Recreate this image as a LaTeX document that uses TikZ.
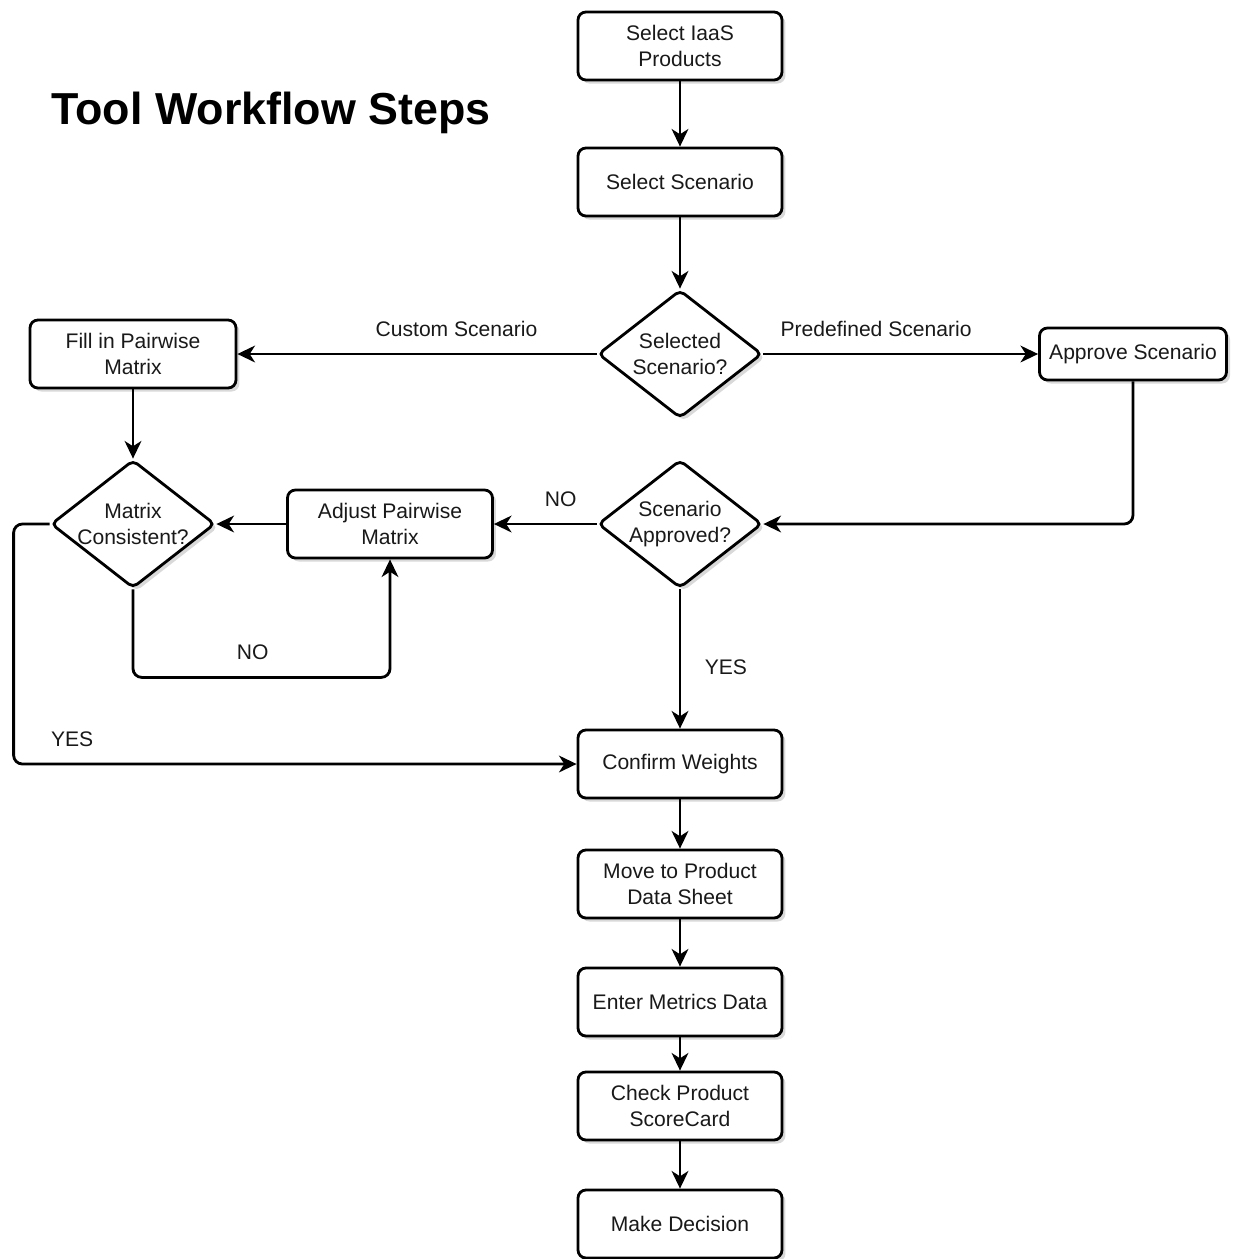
\documentclass[tikz,border=0pt]{standalone}
\usepackage{fontspec}
\setmainfont{Liberation Sans}
\usetikzlibrary{shapes.geometric}
\usetikzlibrary{arrows.meta}
\usetikzlibrary{shadows}

\tikzset{
  stepbox/.style={draw, rounded corners=4.5pt, line width=1.6pt, fill=white,
    minimum width=4.08cm, minimum height=1.36cm, align=center,
    font=\fontsize{12}{14.8}\selectfont, text=black!90,
    drop shadow={shadow xshift=2pt, shadow yshift=-2pt, opacity=0.3}},
  choice/.style={draw, diamond, rounded corners=3pt, line width=1.6pt, fill=white,
    minimum width=3.28cm, minimum height=2.56cm, inner sep=-6pt, align=center,
    font=\fontsize{12}{14.8}\selectfont, text=black!90,
    drop shadow={shadow xshift=2pt, shadow yshift=-2pt, opacity=0.3}},
  tag/.style={font=\fontsize{12}{14.8}\selectfont, text=black!90},
  arr/.style={-{Stealth[length=10pt,width=9.5pt,inset=3pt]}, line width=1.6pt, rounded corners=5pt}
}

\begin{document}
\begin{tikzpicture}[x=0.02cm, y=-0.02cm]
  \useasboundingbox (0,0) rectangle (1236,1259);

  \node (title) at (271,113) {\fontsize{25.5}{30}\selectfont\bfseries Tool Workflow Steps};

  \node[stepbox] (prod) at (680,46) {Select IaaS\\Products};
  \node[stepbox] (scen) at (680,182) {Select Scenario};
  \node[choice] (sel) at (680,354) {Selected\\Scenario?};
  \node[stepbox, minimum width=4.12cm] (fill) at (133,354) {Fill in Pairwise\\Matrix};
  \node[stepbox, minimum width=3.74cm, minimum height=1.04cm] (appr) at (1133,354) {Approve Scenario};
  \node[choice] (ok) at (680,524) {Scenario\\Approved?};
  \node[stepbox, minimum width=4.1cm] (adj) at (390,524) {Adjust Pairwise\\Matrix};
  \node[choice] (cons) at (133,524) {Matrix\\Consistent?};
  \node[stepbox] (conf) at (680,764) {Confirm Weights};
  \node[stepbox] (move) at (680,884) {Move to Product\\Data Sheet};
  \node[stepbox] (metr) at (680,1002) {Enter Metrics Data};
  \node[stepbox] (card) at (680,1106) {Check Product\\ScoreCard};
  \node[stepbox] (dec) at (680,1224) {Make Decision};

  \path[arr]
    (prod) edge (scen)
    (scen) edge (sel)
    (sel) edge node [tag, pos=0.39, above=6pt] {Custom Scenario} (fill)
    (sel) edge node [tag, pos=0.41, above=6pt] {Predefined Scenario} (appr)
    (fill) edge (cons)
    (ok) edge node [tag, pos=0.35, above=6pt] {NO} (adj)
    (adj) edge (cons)
    (ok) edge node [tag, pos=0.56, right=10pt] {YES} (conf)
    (conf) edge (move)
    (move) edge (metr)
    (metr) edge (card)
    (card) edge (dec);

  \draw[arr] (appr.south) |- (ok.east);
  \draw[arr] (cons.south) -- ++(0,88) -| node [tag, pos=0.233, above=6pt] {NO} (adj.south);
  \draw[arr] (cons.west) -- ++(-36,0) |- node [tag, pos=0.552, above=6pt] {YES} (conf.west);
\end{tikzpicture}
\end{document}
